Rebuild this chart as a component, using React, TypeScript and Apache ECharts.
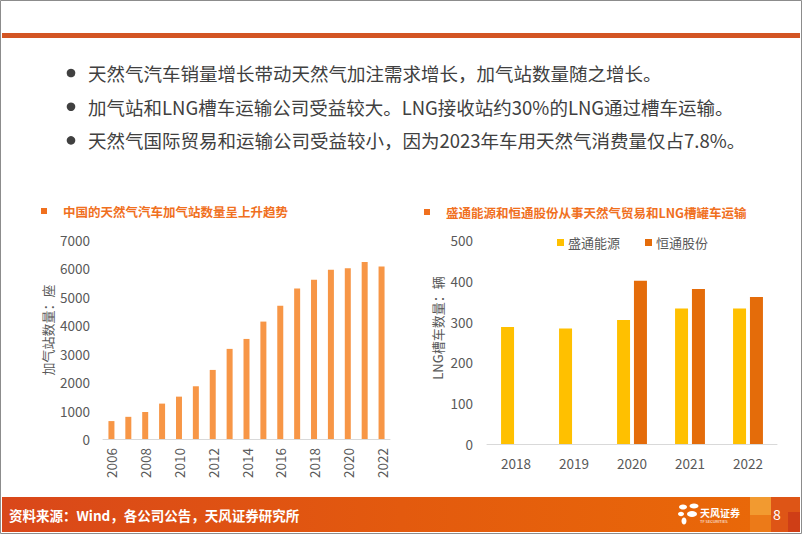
import React, { useEffect, useRef } from "react";
import * as echarts from "echarts";

const bulletTexts = [
  "天然气汽车销量增长带动天然气加注需求增长，加气站数量随之增长。",
  "加气站和LNG槽车运输公司受益较大。LNG接收站约30%的LNG通过槽车运输。",
  "天然气国际贸易和运输公司受益较小，因为2023年车用天然气消费量仅占7.8%。",
];

const leftTitle = "中国的天然气汽车加气站数量呈上升趋势";
const rightTitle = "盛通能源和恒通股份从事天然气贸易和LNG槽罐车运输";

const stationYears = [
  "2006", "2007", "2008", "2009", "2010", "2011", "2012", "2013", "2014",
  "2015", "2016", "2017", "2018", "2019", "2020", "2021", "2022",
];
const stationCounts = [
  630, 780, 950, 1245, 1490, 1855, 2430, 3170, 3520,
  4130, 4690, 5290, 5600, 5950, 6010, 6230, 6070,
];

const truckYears = ["2018", "2019", "2020", "2021", "2022"];
const shengtong = [287, 283, 304, 332, 332];
const hengtong = [null, null, 400, 380, 360];
const seriesNames = ["盛通能源", "恒通股份"];

const sourceText = "资料来源：Wind，各公司公告，天风证券研究所";
const pageNo = "8";

const FONT = "'Noto Sans CJK SC', 'Noto Sans', sans-serif";

export default function App() {
  const ref = useRef<HTMLDivElement>(null);
  useEffect(() => {
    if (!ref.current) return;
    const chart = echarts.init(ref.current, null, { renderer: "svg" });
    const axisLabel = { color: "#595959", fontSize: 13.5, fontFamily: FONT, formatter: (v: any) => String(v) };
    const graphics: any[] = [
      { type: "rect", shape: { x: 0.5, y: 0.5, width: 801, height: 533 }, style: { fill: "none", stroke: "#8c8c8c", lineWidth: 1 }, z: 10 },
      { type: "rect", shape: { x: 2, y: 33, width: 798, height: 5 }, style: { fill: "#D35523" } },
    ];
    bulletTexts.forEach((t, i) => {
      const y = 73 + i * 33.7;
      graphics.push({ type: "circle", shape: { cx: 71, cy: y, r: 4.3 }, style: { fill: "#404040" } });
      graphics.push({
        type: "text", x: 88, y,
        style: { text: t, fill: "#404040", font: `18.5px ${FONT}`, verticalAlign: "middle", align: "left" },
      });
    });
    // chart titles
    graphics.push({ type: "rect", shape: { x: 41, y: 208, width: 6, height: 6 }, style: { fill: "#F0701E" } });
    graphics.push({ type: "text", x: 63, y: 211, style: { text: leftTitle, fill: "#F0701E", font: `bold 12.5px ${FONT}`, verticalAlign: "middle" } });
    graphics.push({ type: "rect", shape: { x: 424, y: 209, width: 6, height: 6 }, style: { fill: "#F0701E" } });
    graphics.push({ type: "text", x: 446, y: 212, style: { text: rightTitle, fill: "#F0701E", font: `bold 12.5px ${FONT}`, verticalAlign: "middle" } });
    // axis names
    graphics.push({ type: "text", x: 47, y: 330, rotation: Math.PI / 2, style: { text: "加气站数量：座", fill: "#595959", font: `13px ${FONT}`, align: "center", verticalAlign: "middle" } });
    graphics.push({ type: "text", x: 437, y: 328, rotation: Math.PI / 2, style: { text: "LNG槽车数量：辆", fill: "#595959", font: `13px ${FONT}`, align: "center", verticalAlign: "middle" } });
    // footer
    graphics.push({
      type: "rect", shape: { x: 2, y: 497, width: 798, height: 35 },
      style: { fill: new echarts.graphic.LinearGradient(0, 0, 1, 0, [
        { offset: 0, color: "#D9471A" }, { offset: 0.5, color: "#E35A0E" }, { offset: 1, color: "#EA6A08" },
      ]) },
    });
    graphics.push({ type: "rect", shape: { x: 750, y: 497, width: 21, height: 18 }, style: { fill: "#F29A30" } });
    graphics.push({ type: "rect", shape: { x: 750, y: 515, width: 21, height: 17 }, style: { fill: "#EC7A18" } });
    graphics.push({ type: "rect", shape: { x: 771, y: 497, width: 29, height: 35 }, style: { fill: "#DE5516" } });
    graphics.push({ type: "rect", shape: { x: 788, y: 512, width: 12, height: 20 }, style: { fill: "#CF3E16" } });
    graphics.push({ type: "text", x: 9, y: 515, style: { text: sourceText, fill: "#ffffff", font: `bold 13.5px ${FONT}`, verticalAlign: "middle" } });
    graphics.push({ type: "text", x: 777, y: 514, style: { text: pageNo, fill: "#ffffff", font: `14px ${FONT}`, align: "center", verticalAlign: "middle" } });
    // logo
    const petals = [
      { cx: 683, cy: 507, rx: 4, ry: 2.5 },
      { cx: 694, cy: 506, rx: 4.5, ry: 2.5 },
      { cx: 681, cy: 514, rx: 3, ry: 2.2 },
      { cx: 692, cy: 514, rx: 5, ry: 3 },
      { cx: 684, cy: 521, rx: 2.5, ry: 3.5 },
    ];
    petals.forEach((p) => graphics.push({ type: "ellipse", shape: p, style: { fill: "#ffffff" } }));
    graphics.push({ type: "text", x: 700, y: 512, style: { text: "天风证券", fill: "#ffffff", font: `bold 10px ${FONT}`, verticalAlign: "middle" } });
    graphics.push({ type: "text", x: 700, y: 521, style: { text: "TF SECURITIES", fill: "#ffffff", font: `4px ${FONT}`, verticalAlign: "middle" } });

    chart.setOption({
      animation: false,
      backgroundColor: "#ffffff",
      textStyle: { fontFamily: FONT },
      grid: [
        { left: 103, top: 240, width: 287, height: 199 },
        { left: 487, top: 240, width: 290, height: 204 },
      ],
      legend: {
        data: seriesNames,
        left: 552, top: 231,
        icon: "rect", itemWidth: 7, itemHeight: 7, itemGap: 25,
        textStyle: { color: "#595959", fontSize: 13, fontFamily: FONT, padding: [0, 0, 0, -1] },
      },
      xAxis: [
        {
          type: "category", gridIndex: 0, data: stationYears,
          axisLine: { lineStyle: { color: "#D9D9D9" } }, axisTick: { show: false },
          axisLabel: { ...axisLabel, rotate: 90, interval: 1, margin: 9 },
        },
        {
          type: "category", gridIndex: 1, data: truckYears,
          axisLine: { lineStyle: { color: "#D9D9D9" } }, axisTick: { show: false },
          axisLabel: { ...axisLabel, margin: 12 },
        },
      ],
      yAxis: [
        {
          type: "value", gridIndex: 0, min: 0, max: 7000, interval: 1000,
          splitLine: { show: false }, axisLine: { show: false }, axisTick: { show: false },
          axisLabel: { ...axisLabel, margin: 13 },
        },
        {
          type: "value", gridIndex: 1, min: 0, max: 500, interval: 100,
          splitLine: { show: false }, axisLine: { show: false }, axisTick: { show: false },
          axisLabel: { ...axisLabel, margin: 14 },
        },
      ],
      series: [
        {
          type: "bar", xAxisIndex: 0, yAxisIndex: 0, data: stationCounts,
          barWidth: 6, itemStyle: { color: "#F79646" },
        },
        {
          name: seriesNames[0], type: "bar", xAxisIndex: 1, yAxisIndex: 1, data: shengtong,
          barWidth: 13, barGap: "30%", itemStyle: { color: "#FFC000" },
        },
        {
          name: seriesNames[1], type: "bar", xAxisIndex: 1, yAxisIndex: 1, data: hengtong,
          barWidth: 13, barGap: "30%", itemStyle: { color: "#E46C0A" },
        },
      ],
      graphic: graphics,
    });
    return () => chart.dispose();
  }, []);
  return (
    <div
      ref={ref}
      style={{ position: "absolute", left: 0, top: 0, width: 802, height: 534 }}
    />
  );
}
